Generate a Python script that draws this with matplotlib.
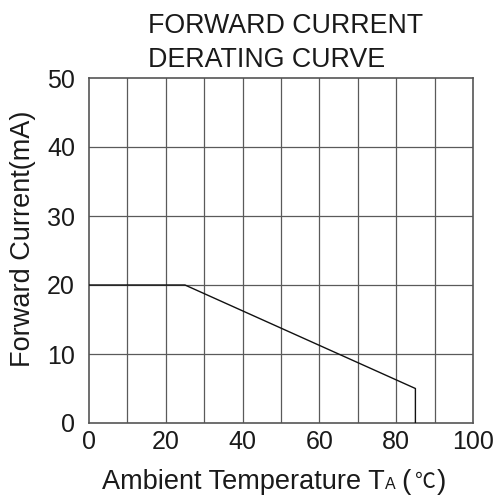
import matplotlib
matplotlib.use("Agg")
import matplotlib.pyplot as plt

plt.rcParams['font.family'] = ['Liberation Sans', 'DejaVu Sans']

# derating curve (temperature in C, current in mA)
temp = [0, 25, 85, 85]
current = [20, 20, 5, 0]
x_ticks = [0, 20, 40, 60, 80, 100]
y_ticks = [0, 10, 20, 30, 40, 50]

W, H = 502, 497
fig = plt.figure(figsize=(W / 100, H / 100), dpi=100)
ax = fig.add_axes([89 / W, 74 / H, 384 / W, 345 / H])

ax.set_xlim(0, 100)
ax.set_ylim(0, 50)
for gx in range(10, 100, 10):
    ax.axvline(gx, color='#5a5a5a', lw=0.9, zorder=1)
for gy in range(10, 50, 10):
    ax.axhline(gy, color='#5a5a5a', lw=0.9, zorder=1)

ax.plot(temp, current, color='#111111', lw=1.0, zorder=3)

for s in ax.spines.values():
    s.set_color('#555555')
    s.set_linewidth(1.2)

ax.set_xticks(x_ticks)
ax.set_yticks(y_ticks)
ax.tick_params(length=0, labelsize=18, colors='#1a1a1a')
ax.tick_params(axis='x', pad=5)
ax.tick_params(axis='y', pad=10)

fig.text(23 / W, 1 - 239 / H, 'Forward Current(mA)', fontsize=19.5,
         color='#1a1a1a', rotation=90, ha='center', va='center')

fig.text(148 / W, 1 - 33 / H, 'FORWARD CURRENT', fontsize=19.3,
         color='#1a1a1a', ha='left', va='baseline')
fig.text(148 / W, 1 - 67 / H, 'DERATING CURVE', fontsize=19.3,
         color='#1a1a1a', ha='left', va='baseline')

base = 1 - 489 / H
fig.text(102 / W, base, 'Ambient Temperature T', fontsize=19.5,
         color='#1a1a1a', ha='left', va='baseline')
fig.text(385 / W, base, 'A', fontsize=11.5,
         color='#1a1a1a', ha='left', va='baseline')
fig.text(401 / W, base, '(', fontsize=20,
         color='#1a1a1a', ha='left', va='baseline')
fig.text(415 / W, base + 1 / H, '\u2103', fontsize=15,
         family=['Noto Sans CJK SC', 'DejaVu Sans'],
         color='#1a1a1a', ha='left', va='baseline')
fig.text(437 / W, base, ')', fontsize=20,
         color='#1a1a1a', ha='left', va='baseline')

fig.savefig('out.png', dpi=100)
